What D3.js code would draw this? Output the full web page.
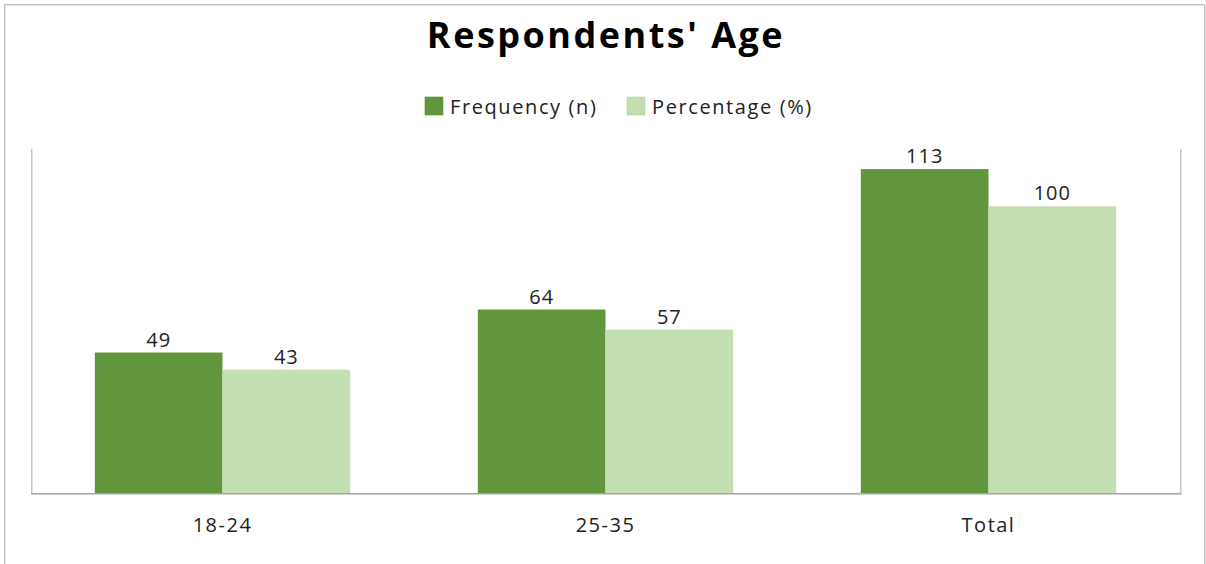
<!DOCTYPE html>
<html><head><meta charset="utf-8">
<script src="https://cdn.jsdelivr.net/npm/d3@7"></script>
<style>body{margin:0;background:#fff;}svg{display:block;}</style>
</head><body>
<svg id="c" width="1206" height="564"></svg>
<script>
const categories = ["18-24", "25-35", "Total"];
const seriesNames = ["Frequency (n)", "Percentage (%)"];
const frequency = [49, 64, 113];
const percentage = [43, 57, 100];
const colors = ["#61963d", "#c3deb0"];

const svg = d3.select("#c");
const plot = {left: 31, right: 1180, top: 149, bottom: 493};
const FONT = "'Open Sans', sans-serif";

// outer border
svg.append("rect").attr("x", 5.5).attr("y", 5.5).attr("width", 1200).attr("height", 580)
  .attr("fill", "none").attr("stroke", "#e6e6e6").attr("stroke-width", 1);
svg.append("rect").attr("x", 4.5).attr("y", 4.5).attr("width", 1200).attr("height", 580)
  .attr("fill", "none").attr("stroke", "#bfbfbf").attr("stroke-width", 1);

svg.append("text").attr("x", 606).attr("y", 48).attr("text-anchor", "middle")
  .style("font-family", FONT).style("font-weight", "bold")
  .style("font-size", "36px").style("letter-spacing", "2.5px").attr("fill", "#000").text("Respondents' Age");

const x0 = d3.scaleBand().domain(categories).range([plot.left, plot.right]).paddingInner(1/3).paddingOuter(1/6);
const x1 = d3.scaleBand().domain(seriesNames).range([0, x0.bandwidth()]);
const y = d3.scaleLinear().domain([0, 120]).range([plot.bottom, plot.top]);

const data = categories.map((c, i) => ({cat: c, vals: [frequency[i], percentage[i]]}));

// plot frame lines (left, right) with shadow
[plot.left, plot.right].forEach(xx => {
  svg.append("line").attr("x1", xx + 1.5).attr("x2", xx + 1.5).attr("y1", plot.top).attr("y2", plot.bottom + 1)
    .attr("stroke", "#e4e4e4").attr("stroke-width", 1);
  svg.append("line").attr("x1", xx + 0.5).attr("x2", xx + 0.5).attr("y1", plot.top).attr("y2", plot.bottom)
    .attr("stroke", "#c4c4c4").attr("stroke-width", 1);
});

const g = svg.append("g");
data.forEach(d => {
  const gg = g.append("g").attr("transform", `translate(${x0(d.cat)},0)`);
  gg.selectAll("rect").data(d.vals).enter().append("rect")
    .attr("x", (v, j) => x1(seriesNames[j]))
    .attr("width", x1.bandwidth())
    .attr("y", v => y(v))
    .attr("height", v => y(0) - y(v))
    .attr("fill", (v, j) => colors[j]);
  gg.selectAll("text").data(d.vals).enter().append("text")
    .attr("x", (v, j) => x1(seriesNames[j]) + x1.bandwidth() / 2)
    .attr("y", v => y(v) - 6)
    .attr("text-anchor", "middle")
    .style("font-family", FONT).style("font-size", "20px").style("letter-spacing", "1px")
    .attr("fill", "#222").text(v => v);
});

// x axis with shadow
svg.append("line").attr("x1", plot.left).attr("x2", plot.right + 2).attr("y1", plot.bottom + 1.5).attr("y2", plot.bottom + 1.5)
  .attr("stroke", "#cfcfcf").attr("stroke-width", 1);
const xAxis = svg.append("g").attr("transform", `translate(0,${plot.bottom + 0.5})`)
  .call(d3.axisBottom(x0).tickSize(0).tickPadding(0));
xAxis.select(".domain").attr("stroke", "#a6a6a6").attr("d", `M${plot.left},0H${plot.right + 1}`);
xAxis.selectAll("text").attr("dy", null).attr("y", 38.5)
  .style("font-family", FONT).style("font-size", "20px").style("letter-spacing", "1.5px").attr("fill", "#222");

// legend
const legend = svg.append("g");
const legX = [425, 627];
seriesNames.forEach((s, i) => {
  legend.append("rect").attr("x", legX[i]).attr("y", 97).attr("width", 18).attr("height", 18)
    .attr("fill", colors[i]).attr("stroke", i ? "#b5cfa2" : "#5a8c39").attr("stroke-width", 0.6);
  legend.append("text").attr("x", legX[i] + 25).attr("y", 114)
    .style("font-family", FONT).style("font-size", "20px").style("letter-spacing", "1.6px")
    .attr("fill", "#222").text(s);
});
</script>
</body></html>
